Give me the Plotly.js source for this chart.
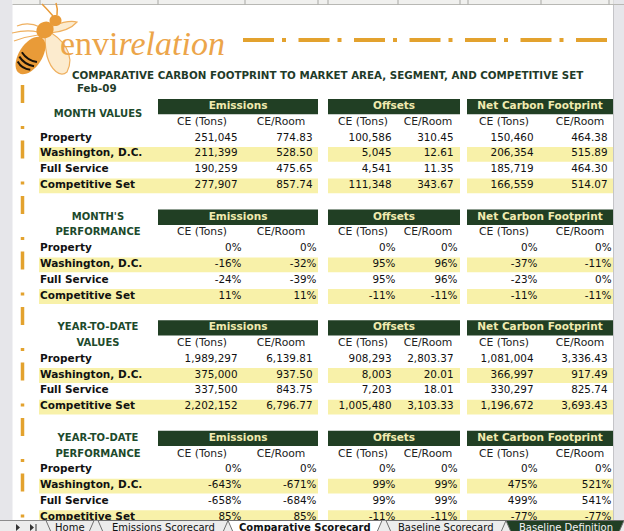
<!DOCTYPE html>
<html><head><meta charset="utf-8">
<script src="https://cdn.plot.ly/plotly-3.0.1.min.js"></script>
<style>html,body{margin:0;padding:0;background:#fff;overflow:hidden}</style>
</head><body><div id="chart" style="width:624px;height:531px"></div>
<script>
// ---------------- DATA ----------------
const chartTitle = 'COMPARATIVE CARBON FOOTPRINT TO MARKET AREA, SEGMENT, AND COMPETITIVE SET';
const periodLabel = 'Feb-09';
const rowLabels = ['Property', 'Washington, D.C.', 'Full Service', 'Competitive Set'];
const groupNames = ['Emissions', 'Offsets', 'Net Carbon Footprint'];
const subColumns = ['CE (Tons)', 'CE/Room'];
const sectionTitles = [['MONTH VALUES'], ["MONTH'S", 'PERFORMANCE'], ['YEAR-TO-DATE', 'VALUES'], ['YEAR-TO-DATE', 'PERFORMANCE']];
const sectionIsPercent = [false, true, false, true];
const sheetTabs = ['Home', 'Emissions Scorecard', 'Comparative Scorecard', 'Baseline Scorecard', 'Baseline Definition'];

// Month values
const monthEmissionsTons = [251045, 211399, 190259, 277907];
const monthEmissionsRoom = [774.83, 528.50, 475.65, 857.74];
const monthOffsetsTons   = [100586, 5045, 4541, 111348];
const monthOffsetsRoom   = [310.45, 12.61, 11.35, 343.67];
const monthNetTons       = [150460, 206354, 185719, 166559];
const monthNetRoom       = [464.38, 515.89, 464.30, 514.07];
// Month's performance (%)
const monthPerfEmissionsTons = [0, -16, -24, 11];
const monthPerfEmissionsRoom = [0, -32, -39, 11];
const monthPerfOffsetsTons   = [0, 95, 95, -11];
const monthPerfOffsetsRoom   = [0, 96, 96, -11];
const monthPerfNetTons       = [0, -37, -23, -11];
const monthPerfNetRoom       = [0, -11, 0, -11];
// Year-to-date values
const ytdEmissionsTons = [1989297, 375000, 337500, 2202152];
const ytdEmissionsRoom = [6139.81, 937.50, 843.75, 6796.77];
const ytdOffsetsTons   = [908293, 8003, 7203, 1005480];
const ytdOffsetsRoom   = [2803.37, 20.01, 18.01, 3103.33];
const ytdNetTons       = [1081004, 366997, 330297, 1196672];
const ytdNetRoom       = [3336.43, 917.49, 825.74, 3693.43];
// Year-to-date performance (%)
const ytdPerfEmissionsTons = [0, -643, -658, 85];
const ytdPerfEmissionsRoom = [0, -671, -684, 85];
const ytdPerfOffsetsTons   = [0, 99, 99, -11];
const ytdPerfOffsetsRoom   = [0, 99, 99, -11];
const ytdPerfNetTons       = [0, 475, 499, -77];
const ytdPerfNetRoom       = [0, 521, 541, -77];

const sectionData = [
  [[monthEmissionsTons, monthEmissionsRoom], [monthOffsetsTons, monthOffsetsRoom], [monthNetTons, monthNetRoom]],
  [[monthPerfEmissionsTons, monthPerfEmissionsRoom], [monthPerfOffsetsTons, monthPerfOffsetsRoom], [monthPerfNetTons, monthPerfNetRoom]],
  [[ytdEmissionsTons, ytdEmissionsRoom], [ytdOffsetsTons, ytdOffsetsRoom], [ytdNetTons, ytdNetRoom]],
  [[ytdPerfEmissionsTons, ytdPerfEmissionsRoom], [ytdPerfOffsetsTons, ytdPerfOffsetsRoom], [ytdPerfNetTons, ytdPerfNetRoom]]
];

// ---------------- LAYOUT GEOMETRY ----------------
const W = 624, H = 531;
const ROW0 = 98.5, ROWH = 15.8;
const rowTop = (s, r) => ROW0 + (s * 7 + r) * ROWH;
const rowMid = (s, r) => rowTop(s, r) + ROWH / 2;
const groupX = [[158, 318], [328, 460], [467, 613]];
const bandX = [[39, 318], [328, 460], [467, 613]];
const colRight = [[237.5, 312.5], [391.5, 453.5], [533.5, 607.5]];
const subCenter = [[202, 281], [363, 428], [504, 580]];
const PCT_SHIFT = 4;
const LABEL_X = 40;
const SECTION_X = 98;

const GREEN = '#213f24', PALE = '#f1ebb0', BAND = '#f8f1a9', ORANGE = '#e3a22e';
const FONT = 'DejaVu Sans';

const fmtTons = v => v.toLocaleString('en-US', {maximumFractionDigits: 0});
const fmtRoom = v => v.toLocaleString('en-US', {minimumFractionDigits: 2, maximumFractionDigits: 2});
const fmtPct = v => v + '%';

const traces = [];
function textTrace(xs, ys, texts, pos, font) {
  traces.push({type: 'scatter', mode: 'text', x: xs, y: ys, text: texts, textposition: pos,
    textfont: font, hoverinfo: 'skip', cliponaxis: false, showlegend: false});
}

const shapes = [];
// page chrome
shapes.push({type: 'rect', layer: 'below', x0: 0, x1: 12.5, y0: 0, y1: H, fillcolor: '#e6e6ea', line: {width: 0}});
shapes.push({type: 'rect', layer: 'below', x0: 613.5, x1: W, y0: 0, y1: H, fillcolor: '#e6e6ea', line: {width: 0}});
shapes.push({type: 'line', layer: 'below', x0: 613.5, x1: 613.5, y0: 0, y1: H, line: {color: '#c4c4c8', width: 1}});
shapes.push({type: 'rect', layer: 'below', x0: 12.5, x1: 613.5, y0: 0, y1: 4.5, fillcolor: '#f0f0ee', line: {width: 0}});
shapes.push({type: 'line', layer: 'below', x0: 12.5, x1: 624, y0: 4.5, y1: 4.5, line: {color: '#b8b8b4', width: 1}});
[40, 158, 245, 318, 328, 398, 460, 468, 541, 609].forEach(x => shapes.push({type: 'line', layer: 'below', x0: x, x1: x, y0: 0, y1: 4.5, line: {color: '#a8a8a4', width: 1}}));

// decorative dash-dot rules
shapes.push({type: 'line', layer: 'below', x0: 243, x1: 608, y0: 40, y1: 40, line: {color: ORANGE, width: 4, dash: '31px,8px,4px,12.5px'}});
shapes.push({type: 'line', layer: 'below', x0: 22.5, x1: 22.5, y0: 85, y1: H, line: {color: ORANGE, width: 3.5, dash: '18px,23px,3px,11.5px'}});

// bee logo
function ellipsePath(cx, cy, a, b, deg) {
  const t = deg * Math.PI / 180; let p = '';
  for (let i = 0; i <= 40; i++) {
    const u = i / 40 * 2 * Math.PI;
    const x = cx + a * Math.cos(u) * Math.cos(t) - b * Math.sin(u) * Math.sin(t);
    const y = cy + a * Math.cos(u) * Math.sin(t) + b * Math.sin(u) * Math.cos(t);
    p += (i ? ' L ' : 'M ') + x.toFixed(2) + ',' + y.toFixed(2);
  }
  return p + ' Z';
}
const BEE = '#e99b38';
const wingLine = {color: '#efb060', width: 1.2};
const wingFill = 'rgba(251,228,190,0.75)';
shapes.push({type: 'path', layer: 'below', path: 'M 46,30 C 62,38 76,54 67,72 C 60,78 51,70 47,56 C 45,46 44,38 46,30 Z', fillcolor: wingFill, line: wingLine});
shapes.push({type: 'path', layer: 'below', path: 'M 48,28 C 58,23 70,20 77,22 C 71,29 61,32 50,33 Z', fillcolor: wingFill, line: wingLine});
shapes.push({type: 'path', layer: 'below', path: 'M 38,32 C 30,30 20,31 12,33 M 38,35 C 30,36 22,38 14,41 M 40,27 C 32,23 24,23 17,26', line: wingLine});
shapes.push({type: 'path', layer: 'below', path: ellipsePath(30.5, 55.5, 21, 11.5, -57), fillcolor: BEE, line: {width: 0}});
shapes.push({type: 'path', layer: 'below', path: ellipsePath(45, 30, 9, 8, -40), fillcolor: BEE, line: {width: 0}});
shapes.push({type: 'path', layer: 'below', path: ellipsePath(55.5, 20.5, 6, 5.5, 0), fillcolor: BEE, line: {width: 0}});
shapes.push({type: 'path', layer: 'below', path: 'M 53,16 Q 47,9 42,4 M 57,15 Q 58,9 56,3', line: {color: BEE, width: 1.5}});
[-2, -7, -12].forEach(d => {
  const t = -57 * Math.PI / 180, cx = 30.5 + d * Math.cos(t), cy = 55.5 + d * Math.sin(t);
  const nx = -Math.sin(t), ny = Math.cos(t), h = 9.5 - Math.abs(d + 4) * 0.25;
  const ax = cx - nx * h, ay = cy - ny * h, bx = cx + nx * h, by = cy + ny * h;
  const qx = cx - Math.cos(t) * 4, qy = cy - Math.sin(t) * 4;
  shapes.push({type: 'path', layer: 'below', path: `M ${ax},${ay} Q ${qx},${qy} ${bx},${by}`, line: {color: '#1a1208', width: 2}});
});

// table backgrounds
for (let s = 0; s < 4; s++) {
  groupX.forEach(([x0, x1]) => shapes.push({type: 'rect', layer: 'below', x0, x1, y0: rowTop(s, 0) + 0.5, y1: rowTop(s, 1), fillcolor: GREEN, line: {width: 0}}));
  [3, 5].forEach(r => bandX.forEach(([x0, x1]) => shapes.push({type: 'rect', layer: 'below', x0, x1, y0: rowTop(s, r) + 1, y1: rowTop(s, r + 1), fillcolor: BAND, line: {width: 0}})));
}

// sheet tab bar (on top)
shapes.push({type: 'rect', layer: 'above', x0: 0, x1: W, y0: 520.5, y1: H, fillcolor: '#ececec', line: {width: 0}});
shapes.push({type: 'line', layer: 'above', x0: 0, x1: W, y0: 520.5, y1: 520.5, line: {color: '#8c8c8c', width: 1}});
const tabEdges = [[46, 94], [98, 228], [228, 382], [386, 506], [506, 624]];
const tabFill = ['#ececec', '#ececec', '#ffffff', '#ececec', GREEN];
tabEdges.forEach(([a, b], i) => shapes.push({type: 'path', layer: 'above', path: `M ${a},520.5 L ${a + 5},532 L ${b - 5},532 L ${b},520.5 Z`, fillcolor: tabFill[i], line: {color: '#707070', width: 1}}));
shapes.push({type: 'path', layer: 'above', path: 'M 16,524 L 16,531 L 20,527.5 Z M 30,524 L 30,531 L 34,527.5 Z', fillcolor: '#333', line: {width: 0}});
shapes.push({type: 'line', layer: 'above', x0: 36, x1: 36, y0: 524, y1: 531, line: {color: '#333', width: 1}});

// ---------------- TEXT ----------------
textTrace([72], [76], [chartTitle], 'middle right', {family: FONT, size: 10.3, color: '#1f3b29', weight: 'bold'});
textTrace([77], [89], [periodLabel], 'middle right', {family: FONT, size: 10.3, color: '#1f3b29', weight: 'bold'});

{
  const xs = [], ys = [], ts = [];
  sectionTitles.forEach((lines, s) => {
    if (lines.length === 1) { xs.push(SECTION_X); ys.push(rowTop(s, 1) + 0.5); ts.push(lines[0]); }
    else lines.forEach((ln, k) => { xs.push(SECTION_X); ys.push(rowMid(s, k)); ts.push(ln); });
  });
  textTrace(xs, ys, ts, 'middle center', {family: FONT, size: 10, color: '#1d4a2c', weight: 'bold'});
}
{
  const hx = [], hy = [], ht = [], sx = [], sy = [], st = [];
  for (let s = 0; s < 4; s++) {
    groupNames.forEach((g, gi) => {
      hx.push((groupX[gi][0] + groupX[gi][1]) / 2); hy.push(rowMid(s, 0)); ht.push(g);
      subColumns.forEach((c, ci) => { sx.push(subCenter[gi][ci]); sy.push(rowMid(s, 1)); st.push(c); });
    });
  }
  textTrace(hx, hy, ht, 'middle center', {family: FONT, size: 10.5, color: PALE, weight: 'bold'});
  textTrace(sx, sy, st, 'middle center', {family: FONT, size: 10.8, color: '#222'});
}
{
  const xs = [], ys = [], ts = [];
  for (let s = 0; s < 4; s++) rowLabels.forEach((r, ri) => { xs.push(LABEL_X); ys.push(rowMid(s, ri + 2)); ts.push(r); });
  textTrace(xs, ys, ts, 'middle right', {family: FONT, size: 10.5, color: '#111', weight: 'bold'});
}
{
  const xs = [], ys = [], ts = [];
  sectionData.forEach((groups, s) => {
    groups.forEach((cols, gi) => cols.forEach((vals, ci) => vals.forEach((v, ri) => {
      const pct = sectionIsPercent[s];
      xs.push(colRight[gi][ci] + (pct ? PCT_SHIFT : 0));
      ys.push(rowMid(s, ri + 2));
      ts.push(pct ? fmtPct(v) : (ci === 0 ? fmtTons(v) : fmtRoom(v)));
    })));
  });
  textTrace(xs, ys, ts, 'middle left', {family: FONT, size: 10.4, color: '#111'});
}

// ---------------- ANNOTATIONS (logo + tabs) ----------------
const annotations = [
  {x: 58, y: 43, xref: 'x', yref: 'y', xanchor: 'left', yanchor: 'middle', showarrow: false,
   text: 'envi<i>relation</i>', font: {family: 'Liberation Serif', size: 34, color: '#eca54a'}}
];
const tabCenters = tabEdges.map(([a, b]) => (a + b) / 2);
tabCenters[4] = 566;
sheetTabs.forEach((t, i) => annotations.push({x: tabCenters[i], y: 527.5, xref: 'x', yref: 'y', xanchor: 'center', yanchor: 'middle', showarrow: false,
  text: t, font: {family: FONT, size: 10, color: i === 4 ? '#f4f4f4' : '#111', weight: i === 2 ? 'bold' : 'normal'}}));

const layout = {
  width: W, height: H, margin: {l: 0, r: 0, t: 0, b: 0, pad: 0},
  paper_bgcolor: '#ffffff', plot_bgcolor: '#ffffff', showlegend: false, hovermode: false,
  xaxis: {range: [0, W], visible: false, fixedrange: true},
  yaxis: {range: [H, 0], visible: false, fixedrange: true},
  shapes, annotations
};
Plotly.newPlot('chart', traces, layout, {staticPlot: true, displayModeBar: false});
</script></body></html>
